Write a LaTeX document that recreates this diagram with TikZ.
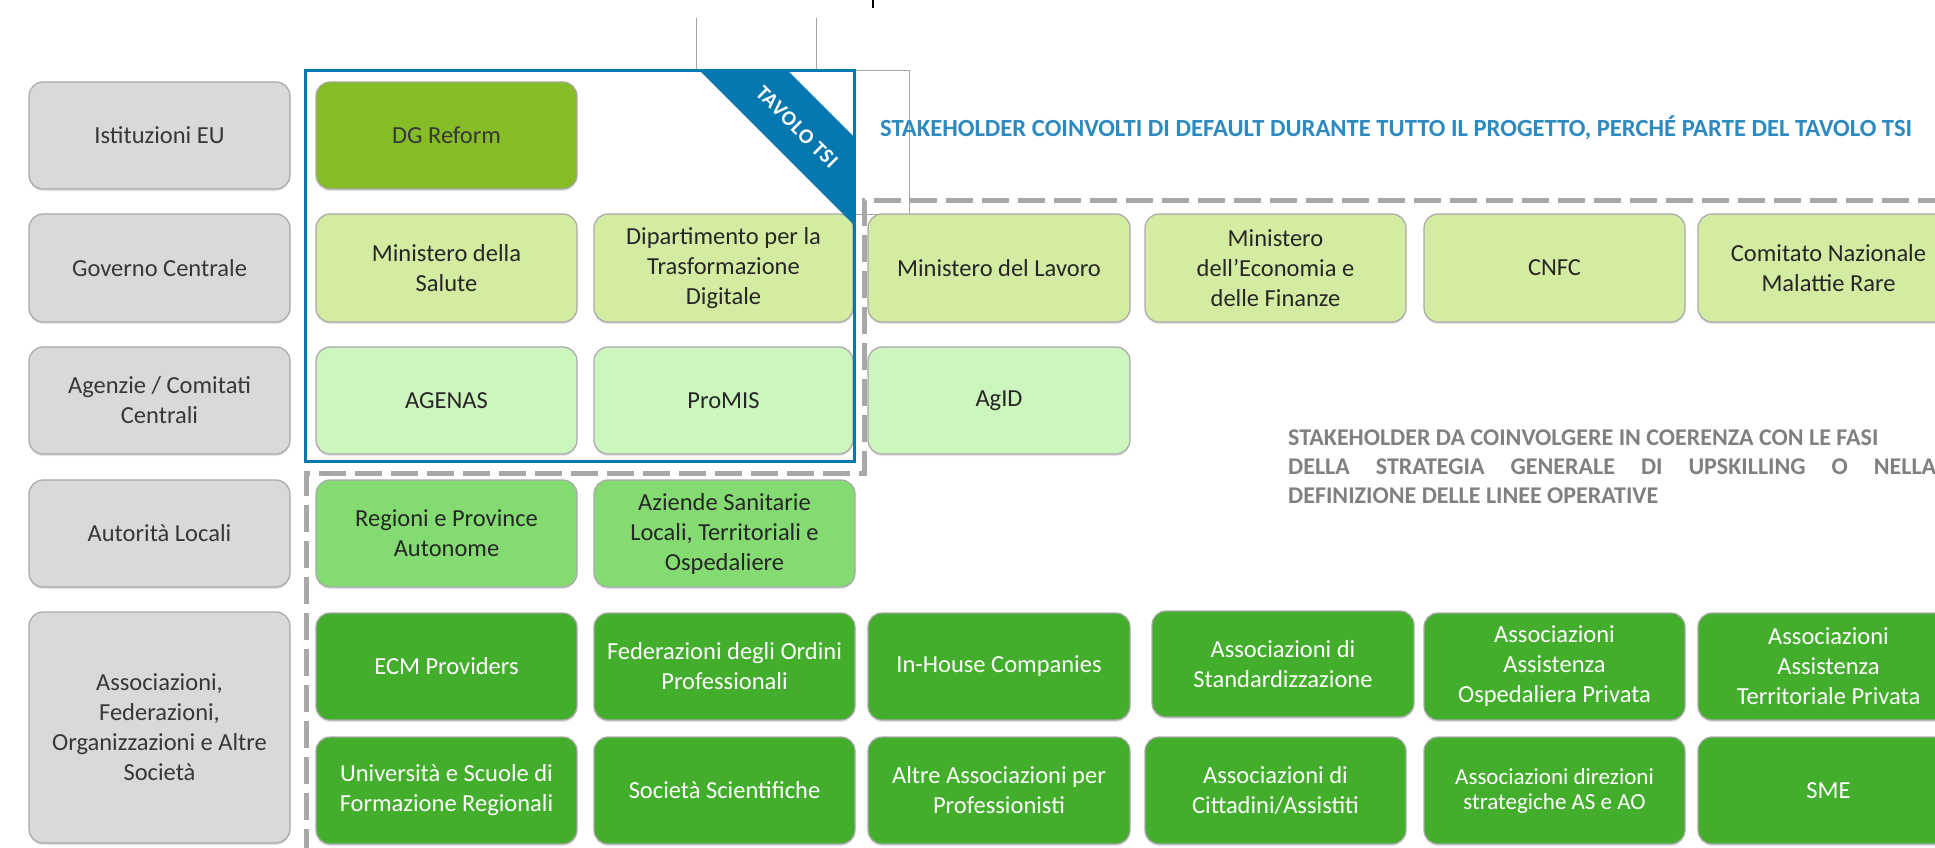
\documentclass[tikz,border=0pt]{standalone}
\usepackage{fontspec}
\usepackage{graphicx}
\setmainfont{Carlito}
\usetikzlibrary{shadows}
\definecolor{boxgray}{RGB}{217,217,217}
\definecolor{edgegray}{RGB}{168,168,168}
\definecolor{txtgray}{RGB}{55,55,55}
\definecolor{dgreen}{RGB}{134,188,37}
\definecolor{lgreen}{RGB}{212,236,161}
\definecolor{mint}{RGB}{204,246,190}
\definecolor{mgreen}{RGB}{132,219,113}
\definecolor{sgreen}{RGB}{67,173,44}
\definecolor{tsiblue}{RGB}{6,120,176}
\definecolor{headblue}{RGB}{45,138,192}
\definecolor{dashgray}{RGB}{168,168,168}
\definecolor{notegray}{RGB}{128,128,128}
\definecolor{thingray}{RGB}{165,165,165}
\newcommand\bx[7]{%
  \pgfmathsetmacro\mybw{#4-#2}\pgfmathsetmacro\mybh{#5-#3}%
  \pgfmathsetmacro\mycx{(#2+#4)/2}\pgfmathsetmacro\mycy{(#3+#5)/2}%
  \node[#6, minimum width=\mybw, minimum height=\mybh] (#1) at (\mycx,\mycy) {#7};}
\tikzset{
  base/.style={rounded corners=14, draw=edgegray, line width=1.2, align=center,
    inner sep=1, font=\fontsize{24.5}{30}\selectfont,
    drop shadow={shadow xshift=0pt, shadow yshift=-2pt, opacity=0.22}},
  catbox/.style={base, fill=boxgray, text=txtgray},
  eubox/.style={base, fill=dgreen, text=txtgray},
  govbox/.style={base, fill=lgreen, text=black!85},
  agbox/.style={base, fill=mint, text=black!85},
  locbox/.style={base, fill=mgreen, text=black!85},
  assbox/.style={base, fill=sgreen, text=white},
  dashline/.style={draw=dashgray, line width=5, dash pattern=on 27 off 9},
  thinline/.style={draw=thingray, line width=1},
  notetext/.style={anchor=west, inner sep=0, text=notegray, font=\bfseries\fontsize{24}{28}\selectfont}
}
\begin{document}
\begin{tikzpicture}[x=1pt,y=-1pt]
\useasboundingbox (0,0) rectangle (1935,848);
\clip (0,0) rectangle (1935,848);
\fill[white] (0,0) rectangle (1935,848);
% thin lines at top
\coordinate (t1) at (696,18); \coordinate (t2) at (696,71);
\coordinate (t3) at (816,18); \coordinate (t4) at (816,71);
\coordinate (t5) at (909,71); \coordinate (t6) at (909,214); \coordinate (t7) at (854,214);
\draw[thinline] (t1) -- (t2);
\draw[thinline] (t3) -- (t4);
\draw[thinline] (t2) -- (t5) -- (t6) -- (t7);
\coordinate (k1) at (873,0); \coordinate (k2) at (873,8);
\draw[line width=2] (k1) -- (k2);
% dashed boundary
\coordinate (d1) at (1945,200); \coordinate (d2) at (864,200);
\coordinate (d3) at (864,473); \coordinate (d4) at (306,473); \coordinate (d5) at (306,858);
\draw[dashline] (d1) -- (d2) -- (d3) -- (d4) -- (d5);
% category boxes
\bx{g1}{29}{82}{290}{189}{catbox}{Istituzioni EU}
\bx{g2}{29}{214}{290}{322}{catbox}{Governo Centrale}
\bx{g3}{29}{347}{290}{454}{catbox}{Agenzie / Comitati\\Centrali}
\bx{g4}{29}{480}{290}{587}{catbox}{Autorità Locali}
\bx{g5}{29}{612}{290}{843}{catbox}{Associazioni,\\Federazioni,\\Organizzazioni e Altre\\Società}
% row 1
\bx{dg}{316}{82}{577}{189}{eubox}{DG Reform}
% row 2
\bx{ms}{316}{214}{577}{322}{govbox}{Ministero della\\Salute}
\bx{dtd}{594}{214}{853}{322}{govbox}{Dipartimento per la\\Trasformazione\\Digitale}
\bx{ml}{868}{214}{1130}{322}{govbox}{Ministero del Lavoro}
\bx{mef}{1145}{214}{1406}{322}{govbox}{Ministero\\dell’Economia e\\delle Finanze}
\bx{cnfc}{1424}{214}{1685}{322}{govbox}{CNFC}
\bx{cnmr}{1698}{214}{1959}{322}{govbox}{Comitato Nazionale\\Malattie Rare}
% row 3
\bx{agenas}{316}{347}{577}{454}{agbox}{AGENAS}
\bx{promis}{594}{347}{853}{454}{agbox}{ProMIS}
\bx{agid}{868}{347}{1130}{454}{agbox}{AgID}
% row 4
\bx{reg}{316}{480}{577}{587}{locbox}{Regioni e Province\\Autonome}
\bx{asl}{594}{480}{855}{587}{locbox}{Aziende Sanitarie\\Locali, Territoriali e\\Ospedaliere}
% row 5a
\bx{ecm}{316}{613}{577}{720}{assbox}{ECM Providers}
\bx{fed}{594}{613}{855}{720}{assbox}{Federazioni degli Ordini\\Professionali}
\bx{inh}{868}{613}{1130}{720}{assbox}{In-House Companies}
\bx{std}{1152}{611}{1414}{717}{assbox}{Associazioni di\\Standardizzazione}
\bx{aop}{1424}{613}{1685}{720}{assbox}{Associazioni\\Assistenza\\Ospedaliera Privata}
\bx{atp}{1698}{613}{1959}{720}{assbox}{Associazioni\\Assistenza\\Territoriale Privata}
% row 5b
\bx{uni}{316}{737}{577}{844}{assbox}{Università e Scuole di\\Formazione Regionali}
\bx{soc}{594}{737}{855}{844}{assbox}{Società Scientifiche}
\bx{altre}{868}{737}{1130}{844}{assbox}{Altre Associazioni per\\Professionisti}
\bx{citt}{1145}{737}{1406}{844}{assbox}{Associazioni di\\Cittadini/Assistiti}
\bx{dir}{1424}{737}{1685}{844}{assbox,font=\fontsize{23}{25}\selectfont}{Associazioni direzioni\\strategiche AS e AO}
\bx{sme}{1698}{737}{1959}{844}{assbox}{SME}
% TAVOLO TSI frame
\coordinate (b1) at (305,71); \coordinate (b2) at (854,461);
\draw[tsiblue, line width=3] (b1) rectangle (b2);
\coordinate (r1) at (700,71); \coordinate (r2) at (788,71);
\coordinate (r3) at (854,137); \coordinate (r4) at (854,225);
\fill[tsiblue] (r1) -- (r2) -- (r3) -- (r4) -- cycle;
\node[rotate=-45, text=white, inner sep=0, font=\bfseries\fontsize{21}{21}\selectfont\addfontfeatures{LetterSpace=4}] (tsi) at (797,127) {TAVOLO TSI};
% header texts
\node[anchor=west, inner sep=0, text=headblue, font=\bfseries\fontsize{24}{28}\selectfont] (hdr) at (880,128) {\resizebox{1032pt}{!}{STAKEHOLDER COINVOLTI DI DEFAULT DURANTE TUTTO IL PROGETTO, PERCHÉ PARTE DEL TAVOLO TSI}};
\node[notetext] (n1) at (1288,438) {STAKEHOLDER DA COINVOLGERE IN COERENZA CON LE FASI};
\node[notetext] (n2) at (1288,467) {\makebox[648pt][s]{DELLA STRATEGIA GENERALE DI UPSKILLING O NELLA}};
\node[notetext] (n3) at (1288,496) {DEFINIZIONE DELLE LINEE OPERATIVE};
\end{tikzpicture}
\end{document}
